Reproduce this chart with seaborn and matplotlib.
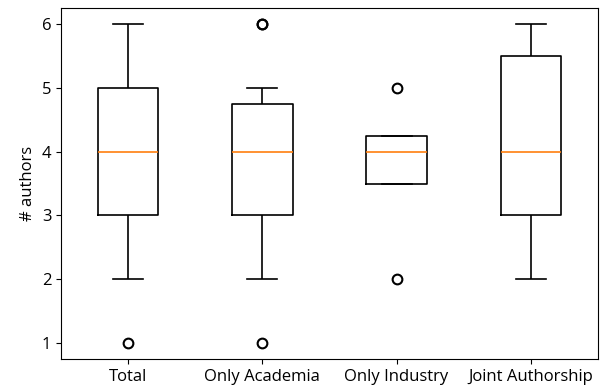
import matplotlib
matplotlib.use("Agg")
import matplotlib.pyplot as plt
import seaborn as sns
import pandas as pd

plt.rcParams["font.family"] = ["Open Sans", "DejaVu Sans"]
plt.rcParams["font.size"] = 12

# number of authors per paper, by authorship type
only_academia = [1, 2, 3, 3, 4, 4, 4, 5, 6, 6]
only_industry = [2, 4, 4, 5]
joint_authorship = [2, 3, 3, 4, 5, 6, 6]
total = only_academia + only_industry + joint_authorship

categories = ["Total", "Only Academia", "Only Industry", "Joint Authorship"]
groups = [total, only_academia, only_industry, joint_authorship]

df = pd.DataFrame(
    [(cat, v) for cat, vals in zip(categories, groups) for v in vals],
    columns=["group", "authors"],
)

fig = plt.figure(figsize=(6.0, 3.87), dpi=100)
ax = fig.add_axes([61 / 600, 1 - 359 / 387, 537 / 600, 351 / 387])

sns.boxplot(
    data=df, x="group", y="authors", order=categories,
    width=0.45, whis=0.65, fill=False, color="black", linewidth=1.2,
    medianprops={"color": "#ff7f0e", "linewidth": 1.2},
    flierprops={"marker": "o", "markersize": 7, "markerfacecolor": "none",
                "markeredgecolor": "black", "markeredgewidth": 1.5},
    ax=ax,
)

ax.set_xlabel("")
ax.set_ylabel("# authors")
ax.set_ylim(0.75, 6.25)
ax.set_yticks([1, 2, 3, 4, 5, 6])

fig.savefig("out.png", dpi=100)
